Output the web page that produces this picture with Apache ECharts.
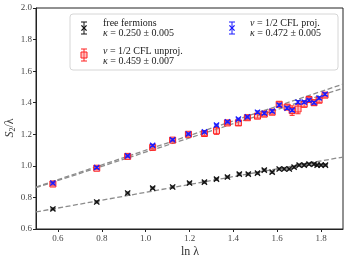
<!DOCTYPE html>
<html><head><meta charset="utf-8">
<script src="https://cdn.jsdelivr.net/npm/echarts@6/dist/echarts.min.js"></script>
<style>html,body{margin:0;padding:0;background:#fff}#c{width:349px;height:262px}</style>
</head><body><div id="c"></div>
<script>
// ---- data ----
var xTicks = [0.6, 0.8, 1.0, 1.2, 1.4, 1.6, 1.8];
var yTicks = [0.6, 0.8, 1.0, 1.2, 1.4, 1.6, 1.8, 2.0];

var ffX   = [0.577, 0.777, 0.918, 1.032, 1.123, 1.200, 1.268, 1.323, 1.373, 1.427, 1.468, 1.510, 1.541, 1.577, 1.609, 1.632, 1.655, 1.677, 1.700, 1.723, 1.745, 1.768, 1.782, 1.800, 1.820];
var ffY   = [0.727, 0.771, 0.828, 0.859, 0.866, 0.891, 0.897, 0.916, 0.929, 0.948, 0.948, 0.954, 0.973, 0.960, 0.980, 0.980, 0.980, 0.992, 1.005, 1.005, 1.011, 1.011, 1.005, 1.005, 1.005];
var ffErr = [0.006, 0.006, 0.006, 0.006, 0.006, 0.006, 0.006, 0.006, 0.006, 0.006, 0.006, 0.006, 0.006, 0.006, 0.006, 0.006, 0.006, 0.006, 0.006, 0.006, 0.006, 0.006, 0.006, 0.006, 0.006];

var cflX   = [0.577, 0.777, 0.918, 1.032, 1.123, 1.195, 1.268, 1.323, 1.373, 1.423, 1.464, 1.510, 1.541, 1.577, 1.609, 1.645, 1.668, 1.695, 1.723, 1.745, 1.768, 1.791, 1.818];
var unprojY   = [0.885, 0.985, 1.060, 1.117, 1.163, 1.200, 1.205, 1.222, 1.272, 1.272, 1.305, 1.315, 1.328, 1.340, 1.390, 1.372, 1.350, 1.360, 1.390, 1.420, 1.400, 1.416, 1.448];
var unprojErr = [0.008, 0.008, 0.008, 0.010, 0.008, 0.008, 0.012, 0.022, 0.010, 0.016, 0.010, 0.012, 0.012, 0.012, 0.014, 0.014, 0.030, 0.030, 0.016, 0.012, 0.016, 0.014, 0.012];
var projY   = [0.891, 0.990, 1.063, 1.130, 1.165, 1.202, 1.215, 1.258, 1.279, 1.296, 1.310, 1.340, 1.334, 1.347, 1.385, 1.366, 1.353, 1.404, 1.404, 1.416, 1.400, 1.430, 1.454];
var projErr = [0.006, 0.006, 0.006, 0.006, 0.006, 0.006, 0.006, 0.006, 0.006, 0.006, 0.006, 0.008, 0.008, 0.008, 0.008, 0.008, 0.008, 0.010, 0.008, 0.008, 0.008, 0.008, 0.008];

// fit lines (endpoints)
var fitX      = [0.5, 1.9];
var fitFF     = [0.708, 1.056];
var fitProj   = [0.866, 1.518];
var fitUnproj = [0.862, 1.492];

function zip3(a, b, c) { return a.map(function (v, i) { return [v, b[i], c[i]]; }); }
function zip2(a, b) { return a.map(function (v, i) { return [v, b[i]]; }); }

function errSeries(name, data, color, marker, z) {
  return {
    type: 'custom', name: name, z: z,
    data: data,
    renderItem: function (params, api) {
      var x = api.value(0), y = api.value(1), e = api.value(2);
      var p = api.coord([x, y]), pt = api.coord([x, y + e]), pb = api.coord([x, y - e]);
      var cap = 2.5, s = 2.6;
      var st = { stroke: color, lineWidth: 1 };
      var ch = [
        { type: 'line', shape: { x1: p[0], y1: pt[1], x2: p[0], y2: pb[1] }, style: st },
        { type: 'line', shape: { x1: p[0] - cap, y1: pt[1], x2: p[0] + cap, y2: pt[1] }, style: st },
        { type: 'line', shape: { x1: p[0] - cap, y1: pb[1], x2: p[0] + cap, y2: pb[1] }, style: st }
      ];
      if (marker === 'x') {
        ch.push({ type: 'line', shape: { x1: p[0] - s, y1: p[1] - s, x2: p[0] + s, y2: p[1] + s }, style: { stroke: color, lineWidth: 1.3 } });
        ch.push({ type: 'line', shape: { x1: p[0] - s, y1: p[1] + s, x2: p[0] + s, y2: p[1] - s }, style: { stroke: color, lineWidth: 1.3 } });
      } else {
        ch.push({ type: 'rect', shape: { x: p[0] - 3, y: p[1] - 3, width: 6, height: 6 }, style: { fill: 'rgba(255,120,120,0.45)', stroke: color, lineWidth: 1 } });
      }
      return { type: 'group', children: ch };
    }
  };
}

function fitSeries(ys, z) {
  return {
    type: 'line', data: zip2(fitX, ys), symbol: 'none', z: z, silent: true,
    lineStyle: { color: '#8c8c8c', width: 1.3, type: [5, 2.5] }
  };
}

var serif = 'Liberation Serif';
var chart = echarts.init(document.getElementById('c'), null, { renderer: 'canvas' });

// legend glyph helper
function glyph(cx, cy, color, marker) {
  var c = [
    { type: 'line', shape: { x1: cx, y1: cy - 6, x2: cx, y2: cy + 6 }, style: { stroke: color, lineWidth: 1 } },
    { type: 'line', shape: { x1: cx - 3, y1: cy - 6, x2: cx + 3, y2: cy - 6 }, style: { stroke: color, lineWidth: 1 } },
    { type: 'line', shape: { x1: cx - 3, y1: cy + 6, x2: cx + 3, y2: cy + 6 }, style: { stroke: color, lineWidth: 1 } }
  ];
  if (marker === 'x') {
    c.push({ type: 'line', shape: { x1: cx - 2.6, y1: cy - 2.6, x2: cx + 2.6, y2: cy + 2.6 }, style: { stroke: color, lineWidth: 1.3 } });
    c.push({ type: 'line', shape: { x1: cx - 2.6, y1: cy + 2.6, x2: cx + 2.6, y2: cy - 2.6 }, style: { stroke: color, lineWidth: 1.3 } });
  } else {
    c.push({ type: 'rect', shape: { x: cx - 3, y: cy - 3, width: 6, height: 6 }, style: { fill: 'rgba(255,120,120,0.45)', stroke: color, lineWidth: 1 } });
  }
  return c;
}

var rich = {
  i: { fontFamily: serif, fontStyle: 'italic', fontSize: 10, fill: '#222' },
  n: { fontFamily: serif, fontSize: 10, fill: '#222' }
};
function ltext(x, y, str) {
  return { type: 'text', x: x, y: y, z: 100, style: { text: str, rich: rich, font: '10px "Liberation Serif"', fill: '#222', verticalAlign: 'middle' } };
}

var legendEls = [
  { type: 'rect', shape: { x: 70, y: 14, width: 268, height: 56, r: 3 }, z: 99, style: { fill: 'rgba(255,255,255,0.85)', stroke: '#d6d6d6', lineWidth: 1 } },
  ltext(103, 23, '{n|free fermions}'),
  ltext(103, 33, '{i|κ}{n| = 0.250 ± 0.005}'),
  ltext(103, 51, '{i|ν}{n| = 1/2 CFL unproj.}'),
  ltext(103, 61, '{i|κ}{n| = 0.459 ± 0.007}'),
  ltext(250, 23, '{i|ν}{n| = 1/2 CFL proj.}'),
  ltext(250, 33, '{i|κ}{n| = 0.472 ± 0.005}')
].concat(
  glyph(84, 28, '#111', 'x').map(function (g) { g.z = 100; return g; }),
  glyph(84, 55, '#ff2020', 's').map(function (g) { g.z = 100; return g; }),
  glyph(232, 28, '#1a1aff', 'x').map(function (g) { g.z = 100; return g; })
);

var option = {
  animation: false,
  backgroundColor: '#fff',
  grid: { left: 36, right: 6, top: 8, bottom: 33, show: true, borderColor: '#222', borderWidth: 1, backgroundColor: 'transparent' },
  xAxis: {
    type: 'value', min: 0.5, max: 1.9,
    axisLine: { show: true, onZero: false, lineStyle: { color: '#222', width: 1 } },
    axisTick: { show: true, length: 3, customValues: xTicks, lineStyle: { color: '#222' } },
    axisLabel: { customValues: xTicks, fontFamily: serif, fontSize: 9, color: '#444', margin: 5, formatter: function (v) { return v.toFixed(1); } },
    splitLine: { show: false }
  },
  yAxis: {
    type: 'value', min: 0.6, max: 2.0,
    axisLine: { show: true, onZero: false, lineStyle: { color: '#222', width: 1 } },
    axisTick: { show: true, length: 3, customValues: yTicks, lineStyle: { color: '#222' } },
    axisLabel: { customValues: yTicks, fontFamily: serif, fontSize: 9, color: '#444', margin: 4, formatter: function (v) { return v.toFixed(1); } },
    splitLine: { show: false }
  },
  series: [
    fitSeries(fitFF, 3),
    fitSeries(fitProj, 3),
    fitSeries(fitUnproj, 3),
    errSeries('free fermions', zip3(ffX, ffY, ffErr), '#111', 'x', 4),
    errSeries('unproj', zip3(cflX, unprojY, unprojErr), '#ff2020', 's', 4),
    errSeries('proj', zip3(cflX, projY, projErr), '#1a1aff', 'x', 5)
  ],
  graphic: [
    { type: 'text', x: 190, y: 252, style: { text: 'ln λ', font: '12px "Liberation Serif"', fill: '#333', align: 'center', verticalAlign: 'middle' } },
    { type: 'text', x: 10, y: 128, rotation: Math.PI / 2,
      style: { text: '{a|S}{b|2}{c|/λ}', align: 'center', verticalAlign: 'middle',
        rich: { a: { fontFamily: serif, fontStyle: 'italic', fontSize: 12, fill: '#333' },
                b: { fontFamily: serif, fontSize: 8, fill: '#333', padding: [5, 0, 0, 0] },
                c: { fontFamily: serif, fontSize: 12, fill: '#333' } } } }
  ].concat(legendEls)
};
chart.setOption(option);
</script>
</body></html>
